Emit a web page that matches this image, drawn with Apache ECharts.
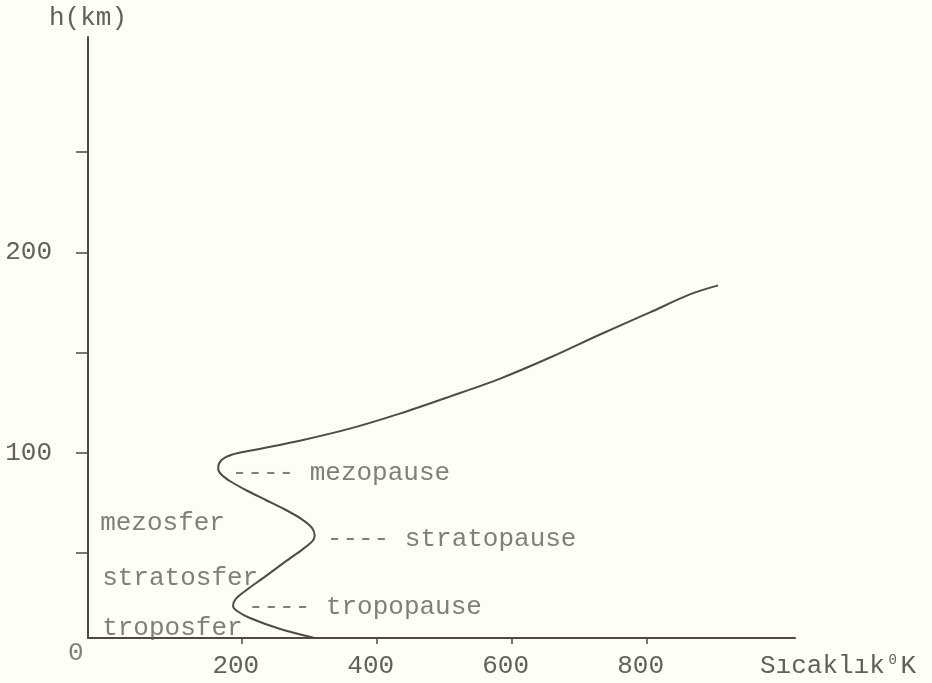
<!DOCTYPE html>
<html>
<head>
<meta charset="utf-8">
<title>Atmosfer sıcaklık profili</title>
<script src="https://cdn.jsdelivr.net/npm/echarts@6/dist/echarts.min.js"></script>
<style>
  html, body { margin: 0; padding: 0; background: #fefdf6; }
  #chart { width: 932px; height: 683px; }
</style>
</head>
<body>
<div id="chart"></div>
<script>
// Temperature (K) against altitude (km), from the ground upward
const temperatureK = [308, 257, 212, 193, 187, 191, 205, 234, 264, 291, 305, 308, 304, 288, 262, 235, 208, 184, 170, 165, 169, 185, 220, 286, 360, 434, 508, 583, 657, 731, 805, 864, 906];
const altitudeKm   = [7.5, 12, 17.5, 21, 23.5, 27, 31, 38, 45.5, 52, 56, 58.5, 62.5, 67, 72, 76.5, 81, 85.5, 89, 92, 96, 99, 101.5, 106, 112, 119.5, 128, 137, 147.5, 159, 170, 179, 183.5];

// Axis ticks and labels
const xTickValues = [200, 400, 600, 800];
const yLabelValues = [100, 200];
const yTickValues = [50, 100, 150, 200, 250];

// Layer names and pause markers, anchored in (K, km)
const annotationText = ['---- mezopause', '---- stratopause', '---- tropopause', 'mezosfer', 'stratosfer', 'troposfer'];
const annotationK    = [185, 326, 209, -10, -7, -7];
const annotationKm   = [90, 57, 23, 65, 37.5, 12.5];

const FONT = '"Liberation Mono", "DejaVu Sans Mono", monospace';
const TEXT_COLOR = '#636056';
const AXIS_COLOR = '#4e4a40';

const curve = temperatureK.map((t, i) => [t, altitudeKm[i]]);
const annotations = annotationText.map((s, i) => ({ name: s, value: [annotationK[i], annotationKm[i]] }));
// origin label, centred below the corner
annotations.push({ name: '0', value: [-46, 0], label: { position: 'inside', align: 'center' } });

const chart = echarts.init(document.getElementById('chart'), null, { renderer: 'canvas' });
chart.setOption({
  backgroundColor: '#fefdf6',
  animation: false,
  textStyle: { fontFamily: FONT },
  grid: { left: 88, right: 137, top: 37, bottom: 45, containLabel: false, outerBoundsMode: 'none' },
  xAxis: {
    type: 'value',
    min: -28,
    max: 1020,
    name: '{a|Sıcaklık}{s|0}{a|K}',
    nameLocation: 'end',
    nameGap: -35,
    nameTextStyle: {
      align: 'left',
      verticalAlign: 'middle',
      padding: [56, 0, 0, 0],
      rich: {
        a: { fontFamily: FONT, fontSize: 26, color: TEXT_COLOR },
        s: { fontFamily: FONT, fontSize: 14, color: TEXT_COLOR, width: 15.6, align: 'center', padding: [0, 0, 12, 0] }
      }
    },
    axisLine: { show: true, onZero: false, lineStyle: { color: AXIS_COLOR, width: 2 } },
    axisTick: { show: true, customValues: xTickValues, length: 6, lineStyle: { color: AXIS_COLOR, width: 1.5 } },
    axisLabel: { customValues: xTickValues, margin: 15, fontFamily: FONT, fontSize: 26, color: TEXT_COLOR, padding: [0, 12, 0, 0] },
    splitLine: { show: false }
  },
  yAxis: {
    type: 'value',
    min: 7.5,
    max: 307.5,
    name: 'h(km)',
    nameLocation: 'end',
    nameGap: 19,
    nameTextStyle: { fontFamily: FONT, fontSize: 26, color: TEXT_COLOR, align: 'center', verticalAlign: 'middle' },
    axisLine: { show: true, onZero: false, lineStyle: { color: AXIS_COLOR, width: 2 } },
    axisTick: { show: true, customValues: yTickValues, length: 12, lineStyle: { color: AXIS_COLOR, width: 1.5 } },
    axisLabel: { customValues: yLabelValues, margin: 36, fontFamily: FONT, fontSize: 26, color: TEXT_COLOR },
    splitLine: { show: false }
  },
  series: [
    {
      type: 'line',
      data: curve,
      smooth: 0.3,
      showSymbol: false,
      symbol: 'none',
      clip: false,
      lineStyle: { color: '#4f4b45', width: 2 }
    },
    {
      type: 'scatter',
      data: annotations,
      symbolSize: 0,
      clip: false,
      silent: true,
      label: {
        show: true,
        formatter: '{b}',
        position: 'right',
        distance: 0,
        fontFamily: FONT,
        fontSize: 26,
        color: TEXT_COLOR
      }
    }
  ]
});
</script>
</body>
</html>
